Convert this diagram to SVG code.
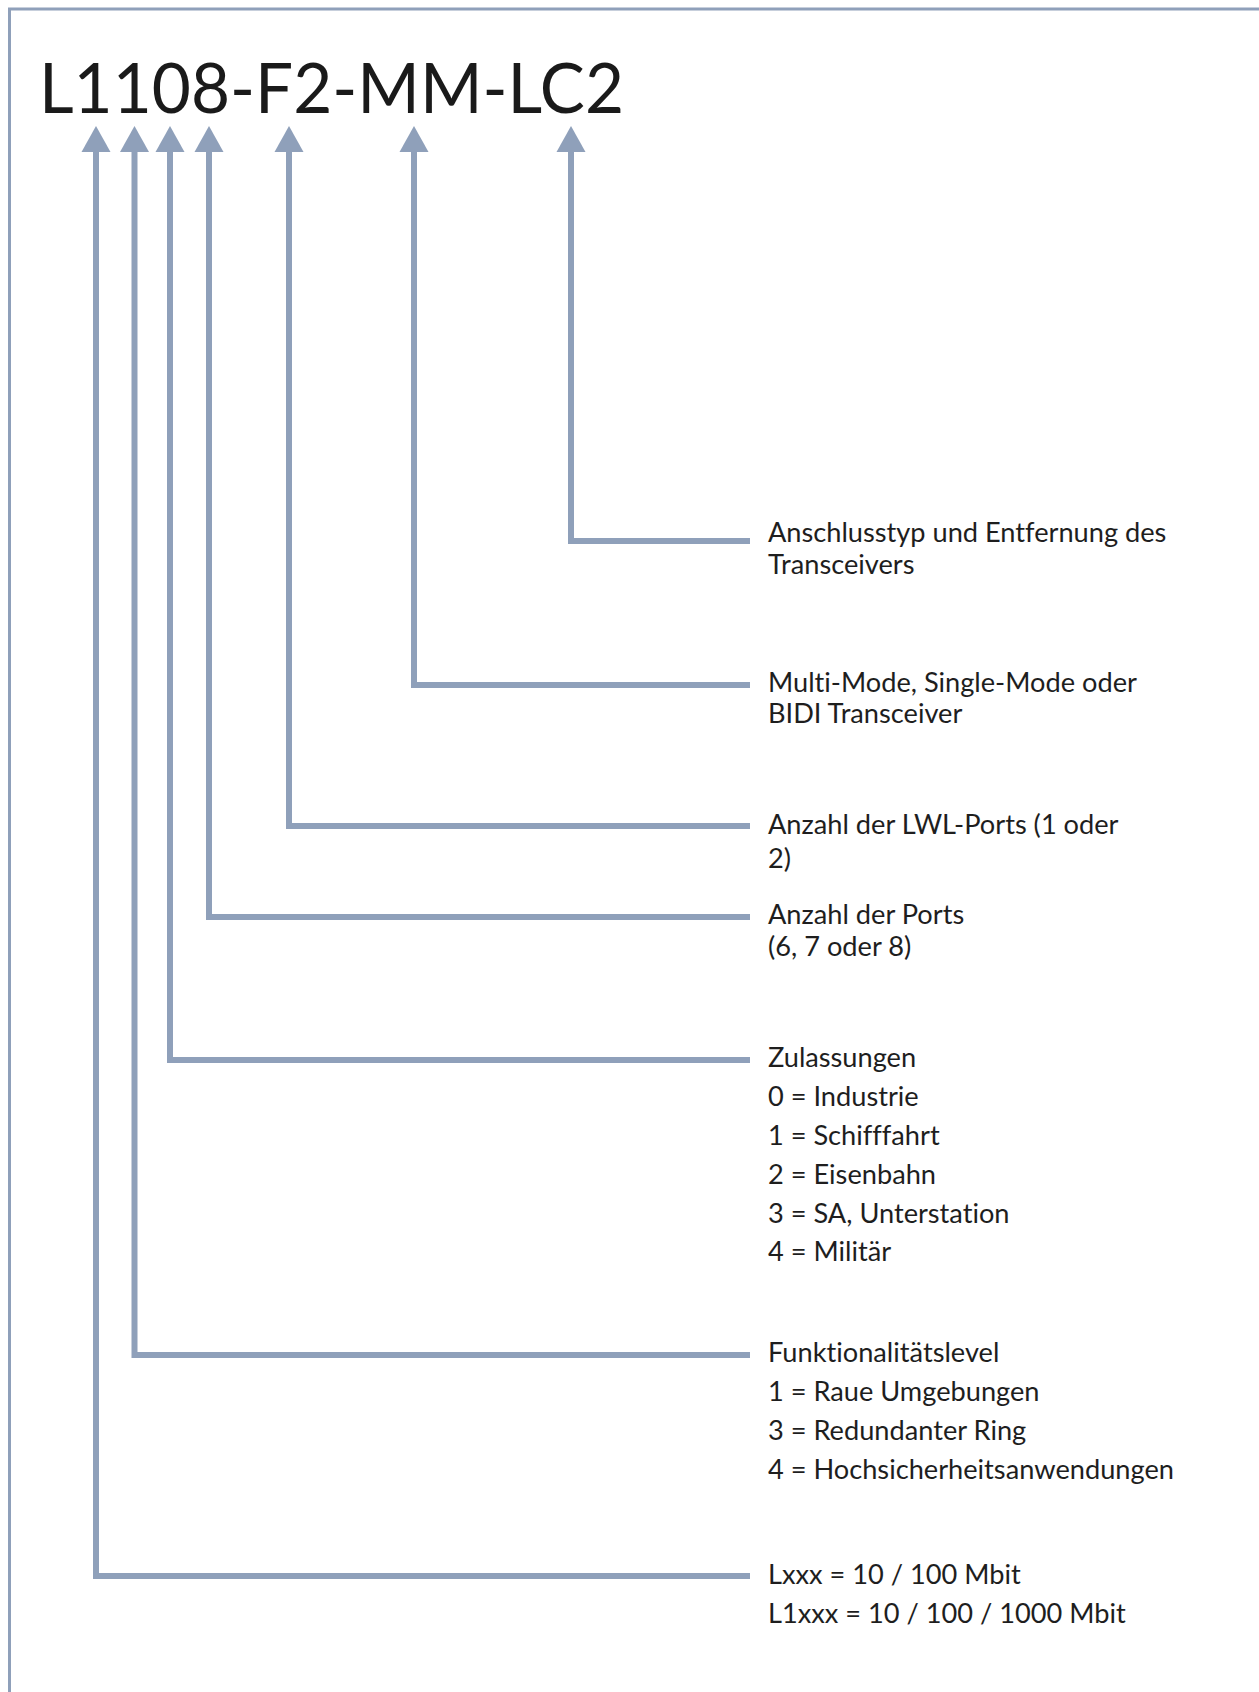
<svg xmlns="http://www.w3.org/2000/svg" width="1259" height="1692" viewBox="0 0 1259 1692">
<style>
.ln{fill:none;stroke:#8fa0ba;stroke-width:6;stroke-linejoin:miter;stroke-linecap:butt}
.ah{fill:#8fa0ba}
.t{font-family:Lato,"Open Sans","DejaVu Sans",sans-serif;font-size:27.2px;fill:#1e1e1e;font-variant-ligatures:none;font-feature-settings:"liga" 0}
.title{font-family:Lato,"Open Sans","DejaVu Sans",sans-serif;font-size:70px;fill:#1a1a1a}
</style>
<defs>
<polygon id="head" points="0,0 14.5,26 -14.5,26"/>
</defs>
<rect width="1259" height="1692" fill="#ffffff"/>
<g id="frame">
<path d="M9.5,1692 V9 H1259" fill="none" stroke="#8fa0ba" stroke-width="3"/>
</g>
<g id="title">
<text class="title" x="39" y="113" textLength="585" lengthAdjust="spacingAndGlyphs">L1108-F2-MM-LC2</text>
</g>
<g id="connectors">
<path class="ln" d="M96,150 V1576 H750"/>
<path class="ln" d="M134.5,150 V1355 H750"/>
<path class="ln" d="M170,150 V1060 H750"/>
<path class="ln" d="M209,150 V917 H750"/>
<path class="ln" d="M289,150 V826 H750"/>
<path class="ln" d="M414,150 V685 H750"/>
<path class="ln" d="M571,150 V541 H750"/>
<use href="#head" class="ah" x="96" y="126"/>
<use href="#head" class="ah" x="134.5" y="126"/>
<use href="#head" class="ah" x="170" y="126"/>
<use href="#head" class="ah" x="209" y="126"/>
<use href="#head" class="ah" x="289" y="126"/>
<use href="#head" class="ah" x="414" y="126"/>
<use href="#head" class="ah" x="571" y="126"/>
</g>
<g id="node-anschluss">
<text class="t" x="768" y="542">Anschlusstyp und Entfernung des</text>
<text class="t" x="768" y="574">Transceivers</text>
</g>
<g id="node-mode">
<text class="t" x="768" y="692">Multi-Mode, Single-Mode oder</text>
<text class="t" x="768" y="723">BIDI Transceiver</text>
</g>
<g id="node-lwl">
<text class="t" x="768" y="834">Anzahl der LWL-Ports (1 oder</text>
<text class="t" x="768" y="868">2)</text>
</g>
<g id="node-ports">
<text class="t" x="768" y="924">Anzahl der Ports</text>
<text class="t" x="768" y="956">(6, 7 oder 8)</text>
</g>
<g id="node-zulassungen">
<text class="t" x="768" y="1067">Zulassungen</text>
<text class="t" x="768" y="1106">0 = Industrie</text>
<text class="t" x="768" y="1145">1 = Schifffahrt</text>
<text class="t" x="768" y="1184">2 = Eisenbahn</text>
<text class="t" x="768" y="1223">3 = SA, Unterstation</text>
<text class="t" x="768" y="1261">4 = Militär</text>
</g>
<g id="node-funktion">
<text class="t" x="768" y="1362">Funktionalitätslevel</text>
<text class="t" x="768" y="1401">1 = Raue Umgebungen</text>
<text class="t" x="768" y="1440">3 = Redundanter Ring</text>
<text class="t" x="768" y="1479">4 = Hochsicherheitsanwendungen</text>
</g>
<g id="node-speed">
<text class="t" x="768" y="1584">Lxxx = 10 / 100 Mbit</text>
<text class="t" x="768" y="1623">L1xxx = 10 / 100 / 1000 Mbit</text>
</g>
</svg>
